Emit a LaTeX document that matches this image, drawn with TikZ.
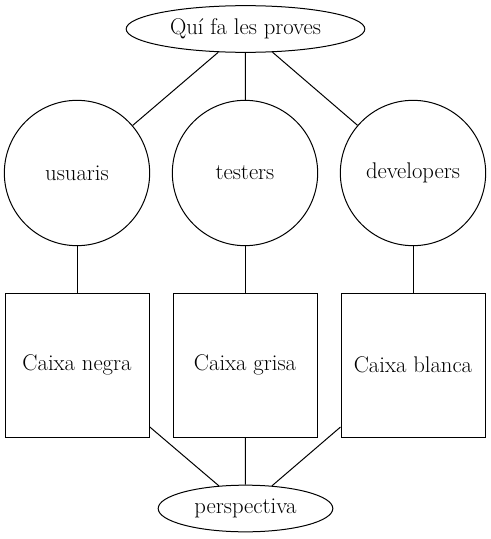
\documentclass[tikz,border=0pt]{standalone}
\usetikzlibrary{shapes.geometric}
\begin{document}
\begin{tikzpicture}[x=0.75pt,y=-0.75pt,
  every node/.style={font=\fontsize{17pt}{20pt}\selectfont, inner sep=0pt, line width=0.75pt},
  ell/.style={draw, ellipse},
  circ/.style={draw, circle, minimum size=109pt},
  sq/.style={draw, rectangle, minimum size=108pt},
  edge/.style={line width=0.75pt}]
\useasboundingbox (0,0) rectangle (491,539);
\node[ell, minimum width=179pt, minimum height=35pt] (top) at (245.5,29) {Quí fa les proves};
\node[circ] (u) at (77,173) {usuaris};
\node[circ] (t) at (245,173) {testers};
\node[circ] (d) at (413,173) {developers};
\node[sq] (cn) at (77,365) {Caixa negra};
\node[sq] (cg) at (245,365) {Caixa grisa};
\node[sq] (cb) at (413,365) {Caixa blanca};
\node[ell, minimum width=131pt, minimum height=35pt] (p) at (245.5,508.5) {perspectiva};
\draw[edge] (top) -- (u);
\draw[edge] (top) -- (t);
\draw[edge] (top) -- (d);
\draw[edge] (u) -- (cn);
\draw[edge] (t) -- (cg);
\draw[edge] (d) -- (cb);
\draw[edge] (cn) -- (p);
\draw[edge] (cg) -- (p);
\draw[edge] (cb) -- (p);
\end{tikzpicture}
\end{document}
